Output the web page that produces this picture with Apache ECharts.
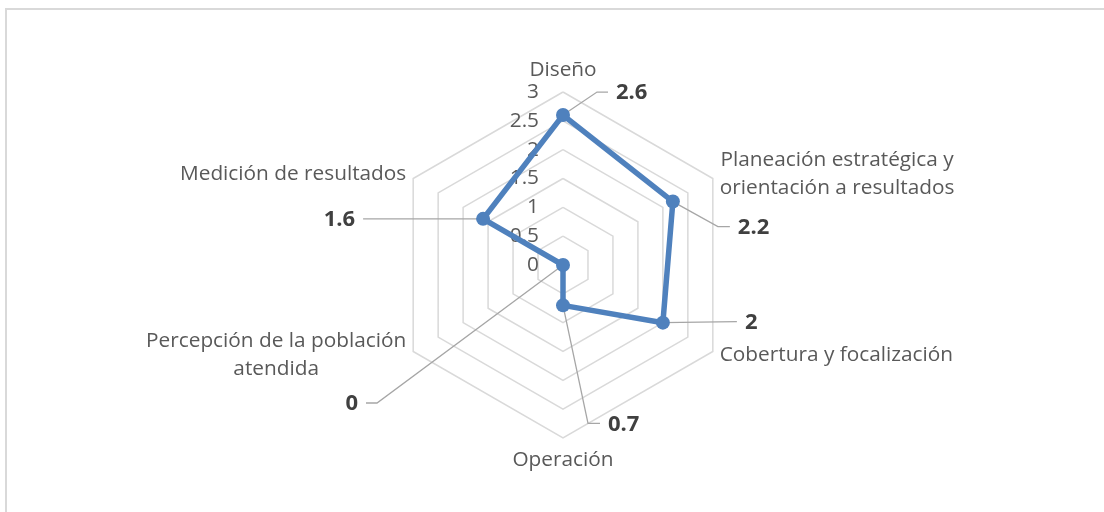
<!DOCTYPE html>
<html>
<head>
<meta charset="utf-8">
<script src="https://cdn.jsdelivr.net/npm/echarts@6/dist/echarts.min.js"></script>
<style>
html,body{margin:0;padding:0;background:#fff;}
#chart{width:1104px;height:512px;}
</style>
</head>
<body>
<div id="chart"></div>
<script>
// Data (clockwise from top, as in the reference)
const categories = [
  'Diseño',
  'Planeación estratégica y\norientación a resultados',
  'Cobertura y focalización',
  'Operación',
  'Percepción de la población\natendida',
  'Medición de resultados'
];
const values = [2.6, 2.2, 2, 0.7, 0, 1.6];
const axisMax = 3;
const tickStep = 0.5;

// Layout of the value callouts (offsets relative to each point), not data
const calloutLayout = [
  { elbow: [34, -23], end: [45, -23], align: 'left' },
  { elbow: [45, 25], end: [57, 25], align: 'left' },
  { elbow: null, end: [74, -1], align: 'left' },
  { elbow: [25, 118], end: [37, 118], align: 'left' },
  { elbow: [-186, 138], end: [-197, 138], align: 'right' },
  { elbow: null, end: [-120, 0], align: 'right' }
];

const FONT = '"Open Sans", Carlito, Lato, sans-serif';
const FS = 20.8;
// ECharts lays indicators counter-clockwise; map clockwise order onto that.
const order = [0].concat(categories.map((_, i) => i).slice(1).reverse());

const chart = echarts.init(document.getElementById('chart'));
const option = {
  backgroundColor: '#fff',
  animation: false,
  graphic: [],
  radar: {
    center: [563, 265],
    radius: 173,
    shape: 'polygon',
    splitNumber: axisMax / tickStep,
    startAngle: 90,
    nameGap: 8,
    axisName: {
      color: '#595959',
      fontFamily: FONT,
      fontSize: FS,
      formatter: function (name) {
        return name.split('\n').map(l => '{c|' + l + '}').join('\n');
      },
      rich: { c: { align: 'center', color: '#595959', fontFamily: FONT, fontSize: FS, lineHeight: 28 } }
    },
    axisLine: { show: false },
    axisTick: { show: false },
    axisLabel: { show: false, color: '#595959', fontFamily: FONT, fontSize: FS, margin: 24,
      formatter: v => String(v) },
    splitLine: { lineStyle: { color: '#D9D9D9', width: 1.5 } },
    splitArea: { show: false },
    indicator: order.map((idx, k) => {
      const ind = { name: categories[idx], min: 0, max: axisMax };
      if (k === 0) ind.axisLabel = { show: true };
      return ind;
    })
  },
  series: [{
    type: 'radar',
    symbol: 'circle',
    symbolSize: 14,
    lineStyle: { color: '#4F81BD', width: 5.5 },
    itemStyle: { color: '#4F81BD' },
    data: [{ value: order.map(i => values[i]) }]
  }]
};
chart.setOption(option);

// Callouts computed from the radar coordinate system
const radarCS = chart.getModel().getComponent('radar').coordinateSystem;
const g = [{
  type: 'rect', silent: true, z: -10,
  shape: { x: 6, y: 9, width: 1200, height: 600 },
  style: { fill: 'none', stroke: '#D9D9D9', lineWidth: 2 }
}];
values.forEach((v, i) => {
  const k = order.indexOf(i);
  const p = radarCS.dataToPoint(v, k);
  const L = calloutLayout[i];
  const pts = [p];
  if (L.elbow) pts.push([p[0] + L.elbow[0], p[1] + L.elbow[1]]);
  const end = [p[0] + L.end[0], p[1] + L.end[1]];
  pts.push(end);
  g.push({ type: 'polyline', silent: true, z: 1, shape: { points: pts },
    style: { stroke: '#A6A6A6', lineWidth: 1.3, fill: 'none' } });
  g.push({ type: 'text', silent: true, z: 5,
    x: end[0] + (L.align === 'left' ? 8 : -8), y: end[1] + 1,
    style: { text: String(v), fill: '#404040', font: 'bold 22px ' + FONT,
      align: L.align, verticalAlign: 'middle' } });
});
chart.setOption({ graphic: g });
</script>
</body>
</html>
